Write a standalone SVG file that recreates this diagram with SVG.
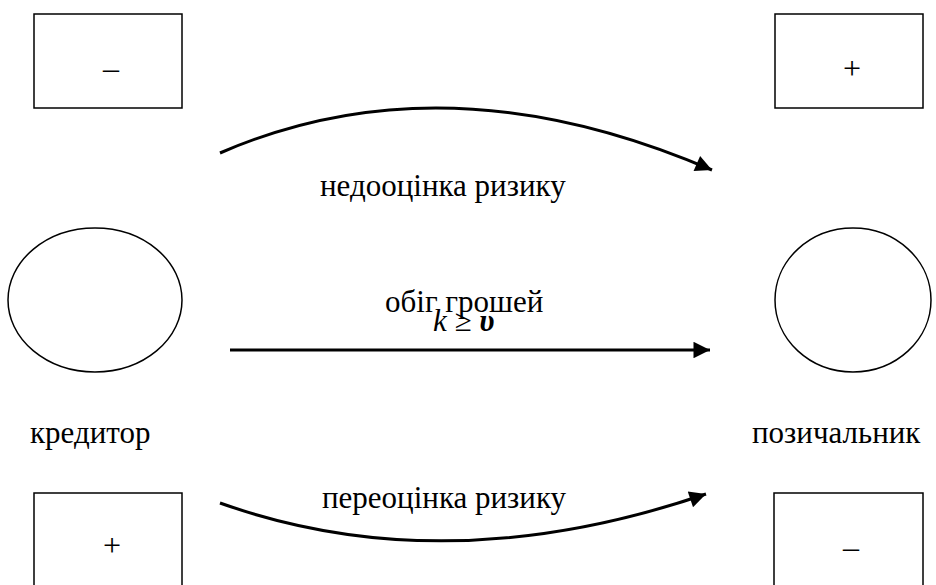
<svg xmlns="http://www.w3.org/2000/svg" width="936" height="585" viewBox="0 0 936 585">
<style>
.box{fill:#fff;stroke:#000;stroke-width:1.5}
.ell{fill:#fff;stroke:#000;stroke-width:1.5}
.t{font-family:'Liberation Serif','DejaVu Serif',serif;font-size:31px;fill:#000}
.sign{font-family:'Liberation Serif','DejaVu Serif',serif;font-size:32px;fill:#000;text-anchor:middle}
.c{fill:none;stroke:#000;stroke-width:3}
</style>
<defs>
<marker id="ah" viewBox="0 0 10 10" refX="10" refY="5" markerWidth="7" markerHeight="5.5" markerUnits="strokeWidth" orient="auto">
<path d="M0,0 L10,5 L0,10 Z" fill="#000"/>
</marker>
</defs>
<rect width="936" height="585" fill="#fff"/>
<g id="box-tl"><rect class="box" x="34" y="14" width="148" height="94"/><text class="sign" x="111" y="79">–</text></g>
<g id="box-tr"><rect class="box" x="775" y="14" width="148" height="94"/><text class="sign" x="852" y="79">+</text></g>
<g id="box-bl"><rect class="box" x="34" y="493" width="148" height="100"/><text class="sign" x="112" y="556">+</text></g>
<g id="box-br"><rect class="box" x="774" y="493" width="149" height="100"/><text class="sign" x="851" y="558">–</text></g>
<g id="creditor"><ellipse class="ell" cx="95" cy="300" rx="87" ry="72"/><text class="t" x="30" y="443">кредитор</text></g>
<g id="borrower"><ellipse class="ell" cx="853" cy="300" rx="78" ry="72"/><text class="t" x="752" y="443">позичальник</text></g>
<g id="connectors">
<path class="c" d="M220,153 Q445,55 712,170" marker-end="url(#ah)"/>
<path class="c" d="M230,350 L710,350" marker-end="url(#ah)"/>
<path class="c" d="M220,503 Q445,583 706,494" marker-end="url(#ah)"/>
</g>
<g id="labels">
<text class="t" x="320" y="196">недооцінка ризику</text>
<text class="t" x="385" y="312">обіг грошей</text>
<text class="t" x="433" y="331"><tspan font-style="italic">k</tspan> ≥ <tspan font-style="italic" font-weight="bold">υ</tspan></text>
<text class="t" x="322" y="508">переоцінка ризику</text>
</g>
</svg>
